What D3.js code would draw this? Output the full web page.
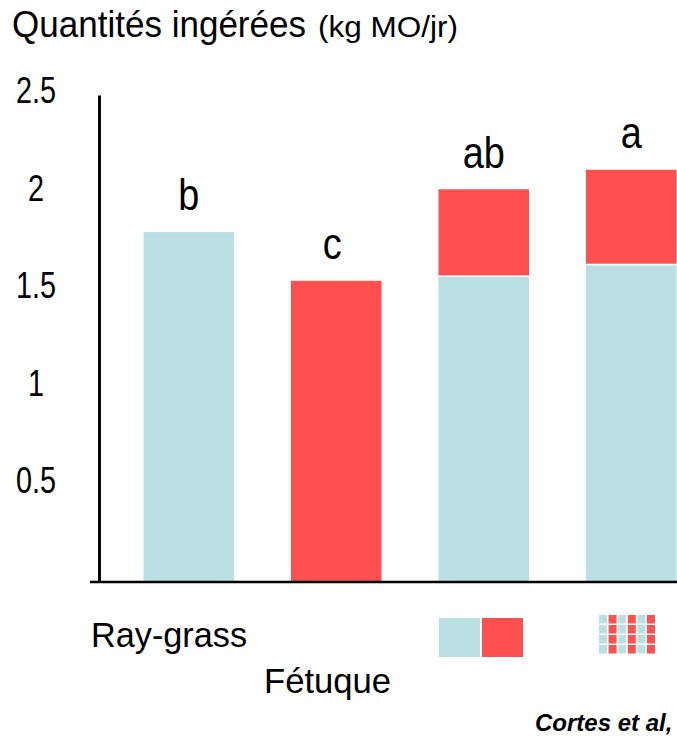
<!DOCTYPE html>
<html>
<head>
<meta charset="utf-8">
<script src="https://cdn.jsdelivr.net/npm/d3@7"></script>
<style>
  body { margin: 0; background: #fff; }
  svg { display: block; font-family: "Liberation Sans", Arial, sans-serif; }
</style>
</head>
<body>
<svg width="677" height="739"></svg>
<script>
// treatments: ray-grass alone, fescue alone, two-pasture choice, mixed sward
const treatments = ["RG", "F", "RG+F", "Mix"];
const rayGrass = [1.80, 0, 1.57, 1.63];
const fetuque = [0, 1.55, 0.45, 0.49];
const letters = ["b", "c", "ab", "a"];
const yTicks = [0.5, 1, 1.5, 2, 2.5];

const blue = "#bae0e3";
const red = "#ff5050";

const svg = d3.select("svg");

const x = d3.scaleBand()
    .domain(treatments)
    .range([115, 705])
    .paddingInner(0.376)
    .paddingOuter(0.188);

const y = d3.scaleLinear()
    .domain([0, 2.5])
    .range([582, 95]);

// squeeze text horizontally like the original slide
function fit(sel, k) {
    sel.each(function () {
        const w = this.getComputedTextLength();
        d3.select(this).attr("textLength", w * k).attr("lengthAdjust", "spacingAndGlyphs");
    });
}

// title
svg.append("text")
    .attr("x", 12).attr("y", 37)
    .attr("font-size", 36)
    .attr("textLength", 294).attr("lengthAdjust", "spacingAndGlyphs")
    .text("Quantités ingérées");
svg.append("text")
    .attr("x", 318).attr("y", 37)
    .attr("font-size", 29)
    .attr("textLength", 140).attr("lengthAdjust", "spacingAndGlyphs")
    .text("(kg MO/jr)");

// bars
const stacked = treatments.map((t, i) => ({
    t: t,
    segs: [
        { y0: 0, y1: rayGrass[i], c: blue },
        { y0: rayGrass[i], y1: rayGrass[i] + fetuque[i], c: red }
    ].filter(s => s.y1 > s.y0)
}));

const groups = svg.selectAll(".bar")
    .data(stacked)
    .enter()
    .append("g")
    .classed("bar", true);

groups.selectAll("rect")
    .data(d => d.segs.map(s => Object.assign({ t: d.t }, s)))
    .enter()
    .append("rect")
    .attr("x", d => x(d.t))
    .attr("width", x.bandwidth())
    .attr("y", d => y(d.y1))
    .attr("height", d => y(d.y0) - y(d.y1))
    .attr("fill", d => d.c)
    .attr("stroke", "#fff")
    .attr("stroke-width", 1.5);

// significance letters
svg.selectAll(".letter")
    .data(treatments)
    .enter()
    .append("text")
    .classed("letter", true)
    .attr("x", (d, i) => x(d) + x.bandwidth() / 2 - (i == 1 ? 4 : 0))
    .attr("y", (d, i) => y(rayGrass[i] + fetuque[i]) - 21)
    .attr("text-anchor", "middle")
    .attr("font-size", 44)
    .text((d, i) => letters[i])
    .call(fit, 0.86);

// y axis
const yAxis = svg.append("g")
    .attr("transform", "translate(99,0)")
    .call(d3.axisLeft(y).tickValues(yTicks).tickSize(0).tickPadding(0).tickFormat(d3.format("")));
yAxis.select(".domain").attr("stroke", "#000").attr("stroke-width", 3);
yAxis.selectAll("text")
    .attr("x", -63)
    .attr("text-anchor", "middle")
    .attr("font-size", 36)
    .attr("font-family", "Liberation Sans, Arial, sans-serif")
    .attr("fill", "#000")
    .attr("dy", "0.22em")
    .call(fit, 0.8);

// baseline
svg.append("line")
    .attr("x1", 90).attr("x2", 677)
    .attr("y1", y(0)).attr("y2", y(0))
    .attr("stroke", "#000").attr("stroke-width", 2.5);

// legend
svg.append("text").attr("x", 91).attr("y", 647).attr("font-size", 35)
    .attr("textLength", 156).attr("lengthAdjust", "spacingAndGlyphs").text("Ray-grass");
svg.append("text").attr("x", 264).attr("y", 693).attr("font-size", 35)
    .attr("textLength", 127).attr("lengthAdjust", "spacingAndGlyphs").text("Fétuque");

svg.append("rect").attr("x", 439).attr("y", 618).attr("width", 41).attr("height", 39).attr("fill", blue);
svg.append("rect").attr("x", 482).attr("y", 618).attr("width", 41).attr("height", 39).attr("fill", red);

// mixed sward swatch: checker of columns
const cols = d3.range(6), rows = d3.range(4);
const pat = svg.append("g").attr("transform", "translate(599,615)");
rows.forEach(r => {
    pat.selectAll(".r" + r)
        .data(cols)
        .enter()
        .append("rect")
        .attr("x", c => c * 9.6)
        .attr("y", r * 10)
        .attr("width", 8)
        .attr("height", 8.5)
        .attr("fill", c => c % 2 ? red : blue);
});

// source
svg.append("text")
    .attr("x", 535).attr("y", 731)
    .attr("font-size", 24)
    .attr("font-weight", "bold")
    .attr("font-style", "italic")
    .text("Cortes et al,");
</script>
</body>
</html>
